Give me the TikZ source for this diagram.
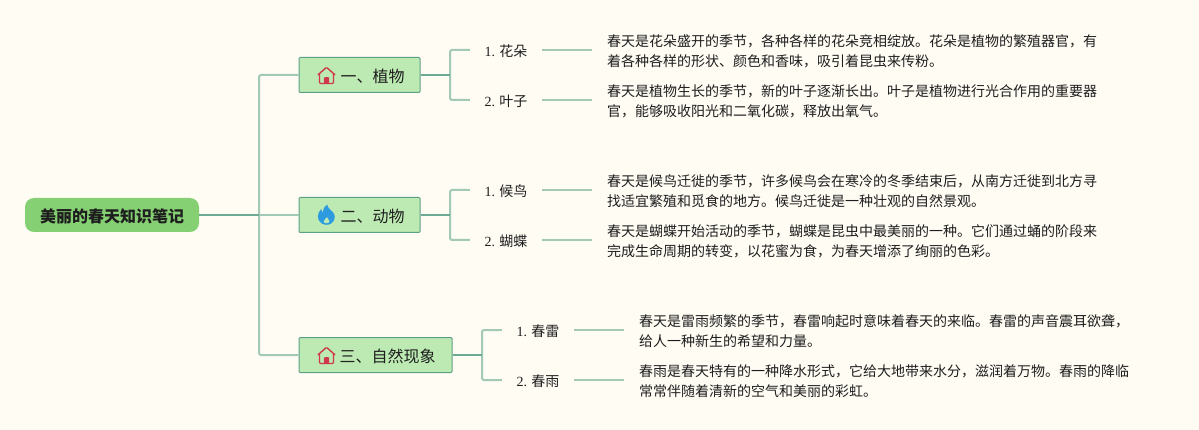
\documentclass[tikz,border=0pt]{standalone}
\usepackage{fontspec}
\setmainfont{Noto Sans CJK SC}
\newfontfamily\numf{Liberation Serif}
\definecolor{bgc}{HTML}{FFFCF4}
\definecolor{rootc}{HTML}{85D073}
\definecolor{topicc}{HTML}{BCEAB2}
\definecolor{edgec}{HTML}{5E9F87}
\definecolor{lightl}{HTML}{A2C9B6}
\definecolor{darkl}{HTML}{6DA894}
\definecolor{homec}{HTML}{D0384C}
\definecolor{firec}{HTML}{2E9BE0}
\definecolor{inkc}{HTML}{1E1E1E}
\tikzset{
  x=1pt,y=-1pt,
  rootbox/.style={fill=rootc,rounded corners=9pt,minimum width=174pt,minimum height=34pt,inner sep=0pt,text=inkc,font=\fontsize{16}{16}\selectfont\bfseries},
  topicbox/.style={fill=topicc,draw=edgec,line width=1pt,rounded corners=1pt,minimum height=35pt,inner sep=0pt,text=inkc,font=\fontsize{16}{16}\selectfont},
  sublabel/.style={minimum width=72pt,minimum height=20pt,inner sep=0pt,text=inkc,font=\fontsize{14}{14}\selectfont},
  body/.style={anchor=west,align=left,inner xsep=15pt,inner ysep=0pt,text=inkc,font=\fontsize{14}{20}\selectfont},
  light/.style={draw=lightl,line width=2pt,rounded corners=1.5pt},
  dark/.style={draw=darkl,line width=2pt},
  homeicon/.pic={
    \draw[homec,line width=1.4pt,line join=round,rounded corners=1pt] (-8.6,-0.6) -- (0,-8.2) -- (8.6,-0.6);
    \draw[homec,line width=1.4pt,rounded corners=1pt] (-7,-1.6) -- (-7,8) -- (7,8) -- (7,-1.6);
    \fill[homec,rounded corners=1pt] (-2.6,8) -- (-2.6,1.6) -- (2.6,1.6) -- (2.6,8) -- cycle;
  },
  fireicon/.pic={
    \fill[firec] (0.6,-10.5) .. controls (1.6,-6) and (5,-5) .. (7,-2.2)
      .. controls (10,2) and (8,9.6) .. (0,9.8)
      .. controls (-8,9.6) and (-10,2) .. (-7.8,-2.2)
      .. controls (-7,-4) and (-6,-5) .. (-5.2,-6)
      .. controls (-5,-4) and (-4.4,-3) .. (-3.4,-2.4)
      .. controls (-3.6,-6) and (-2,-9) .. (0.6,-10.5) -- cycle;
    \fill[topicc] (0.4,2.2) .. controls (1,3.6) and (3,4.6) .. (2.8,6.6)
      .. controls (2.4,8.8) and (-2.4,8.8) .. (-2.8,6.6)
      .. controls (-3,5) and (-0.6,4) .. (0.4,2.2) -- cycle;
  }
}
\newcommand{\low}[1]{\raisebox{0pt}[\dimexpr\height+2pt\relax][\depth]{#1}}
\newcommand{\lab}[2]{\low{{\numf #1} #2}}
\begin{document}
\begin{tikzpicture}
\fill[bgc] (0,0) rectangle (1199,430);
\useasboundingbox (0,0) rectangle (1199,430);

\node[rootbox] (root) at (112,215) {\low{美丽的春天知识笔记}};
\node[topicbox,minimum width=121pt] (t1) at (359.5,75) {\hspace*{26pt}\low{一、植物}};
\node[topicbox,minimum width=121pt] (t2) at (359.5,215) {\hspace*{26pt}\low{二、动物}};
\node[topicbox,minimum width=153pt] (t3) at (375.5,355) {\hspace*{24pt}\low{三、自然现象}};

\pic at (326.5,75.5) {homeicon};
\pic at (326.5,215) {fireicon};
\pic at (326.5,355.5) {homeicon};

\node[sublabel] (a1) at (506,50) {\lab{1.}{花朵}};
\node[sublabel] (a2) at (506,100) {\lab{2.}{叶子}};
\node[sublabel] (b1) at (506,190) {\lab{1.}{候鸟}};
\node[sublabel] (b2) at (506,240) {\lab{2.}{蝴蝶}};
\node[sublabel] (c1) at (538,330) {\lab{1.}{春雷}};
\node[sublabel] (c2) at (538,380) {\lab{2.}{春雨}};

\node[body] (ta1) at (592,51) {春天是花朵盛开的季节，各种各样的花朵竞相绽放。花朵是植物的繁殖器官，有\\着各种各样的形状、颜色和香味，吸引着昆虫来传粉。};
\node[body] (ta2) at (592,101) {春天是植物生长的季节，新的叶子逐渐长出。叶子是植物进行光合作用的重要器\\官，能够吸收阳光和二氧化碳，释放出氧气。};
\node[body] (tb1) at (592,191) {春天是候鸟迁徙的季节，许多候鸟会在寒冷的冬季结束后，从南方迁徙到北方寻\\找适宜繁殖和觅食的地方。候鸟迁徙是一种壮观的自然景观。};
\node[body] (tb2) at (592,241) {春天是蝴蝶开始活动的季节，蝴蝶是昆虫中最美丽的一种。它们通过蛹的阶段来\\完成生命周期的转变，以花蜜为食，为春天增添了绚丽的色彩。};
\node[body] (tc1) at (624,331) {春天是雷雨频繁的季节，春雷响起时意味着春天的来临。春雷的声音震耳欲聋，\\给人一种新生的希望和力量。};
\node[body] (tc2) at (624,381) {春雨是春天特有的一种降水形式，它给大地带来水分，滋润着万物。春雨的降临\\常常伴随着清新的空气和美丽的彩虹。};

% root to topics
\coordinate (trunk) at (259,215);
\draw[light] (t1.west) -| (trunk);
\draw[light] (t3.west) -| (trunk);
\draw[light] (trunk) -- (t2.west);
\draw[dark] (root.east) -- (trunk);

% topics to sublabels
\coordinate (ja) at (450,75);
\coordinate (jb) at (450,215);
\coordinate (jc) at (482,355);
\draw[light] (a1.west) -| (ja);
\draw[light] (a2.west) -| (ja);
\draw[dark] (t1.east) -- (ja);
\draw[light] (b1.west) -| (jb);
\draw[light] (b2.west) -| (jb);
\draw[dark] (t2.east) -- (jb);
\draw[light] (c1.west) -| (jc);
\draw[light] (c2.west) -| (jc);
\draw[dark] (t3.east) -- (jc);

% sublabels to texts
\draw[light] (a1.east) -- (a1.east -| ta1.west);
\draw[light] (a2.east) -- (a2.east -| ta2.west);
\draw[light] (b1.east) -- (b1.east -| tb1.west);
\draw[light] (b2.east) -- (b2.east -| tb2.west);
\draw[light] (c1.east) -- (c1.east -| tc1.west);
\draw[light] (c2.east) -- (c2.east -| tc2.west);
\end{tikzpicture}
\end{document}
